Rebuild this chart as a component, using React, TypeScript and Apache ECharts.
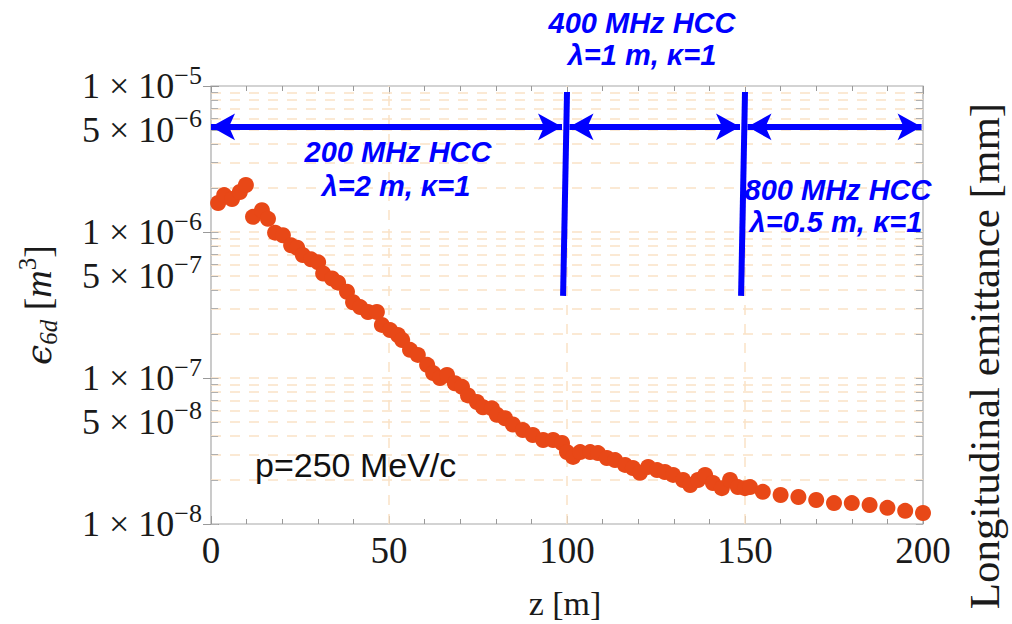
import React, { useEffect, useRef } from 'react';
import * as echarts from 'echarts';

// z [m] and 6D emittance [m^3]
const zValues = [
  2.0, 3.7, 5.9, 8.1, 9.8, 11.8, 14.3, 16.0, 18.0, 20.2, 22.5, 24.2, 25.8, 28.1, 30.1, 31.5, 34.0, 35.7,
  38.2, 39.9, 41.9, 44.1, 46.6, 48.0, 50.3, 52.5, 53.7, 55.9, 58.1, 60.7, 62.4, 64.3, 66.3, 68.5, 70.5,
  72.2, 74.7, 76.4, 78.9, 80.3, 82.6, 84.8, 87.6, 90.4, 93.3, 96.1, 98.6, 100.0, 101.7, 103.7, 106.5,
  108.7, 111.2, 113.5, 116.3, 118.5, 120.5, 122.8, 125.3, 127.5, 129.8, 132.6, 134.6, 136.8, 138.8,
  141.0, 143.5, 145.8, 148.0, 150.0, 151.4, 155, 160, 165, 170, 175, 180, 185, 190, 195, 200,
];
const emittance = [
  1.58e-6, 1.79e-6, 1.68e-6, 1.88e-6, 2.1e-6, 1.27e-6, 1.41e-6, 1.23e-6, 9.9e-7, 9.5e-7, 8.1e-7, 7.8e-7,
  6.95e-7, 6.5e-7, 6.2e-7, 5.2e-7, 4.8e-7, 4.5e-7, 3.9e-7, 3.3e-7, 3.06e-7, 2.83e-7, 2.83e-7, 2.31e-7,
  2.13e-7, 1.97e-7, 1.82e-7, 1.56e-7, 1.44e-7, 1.23e-7, 1.08e-7, 1.0e-7, 1.05e-7, 9.2e-8, 8.7e-8, 7.6e-8,
  6.85e-8, 6.3e-8, 6.2e-8, 5.6e-8, 5.3e-8, 4.8e-8, 4.4e-8, 4.07e-8, 3.76e-8, 3.76e-8, 3.59e-8, 3.11e-8,
  2.88e-8, 3.11e-8, 3.11e-8, 3.06e-8, 2.83e-8, 2.74e-8, 2.54e-8, 2.42e-8, 2.24e-8, 2.46e-8, 2.34e-8,
  2.27e-8, 2.17e-8, 2.0e-8, 1.85e-8, 2.0e-8, 2.17e-8, 1.91e-8, 1.76e-8, 2.0e-8, 1.79e-8, 1.76e-8, 1.79e-8,
  1.66e-8, 1.58e-8, 1.53e-8, 1.46e-8, 1.39e-8, 1.39e-8, 1.35e-8, 1.29e-8, 1.23e-8, 1.19e-8,
];

const yDecades = [1e-8, 1e-7, 1e-6];
const minorMultipliers = [1, 2, 3, 4, 5, 6, 7, 8, 9];
const labeledMultiplier = 5;
const xGridValues = [50, 100, 150];
const sectionBounds = [0, 100, 150, 200];
const arrowLevel = 5.25e-6;
const dividerTop = 9.1e-6;
const dividerBottom = 3.65e-7;

const serif = '"Liberation Serif", "Times New Roman", serif';
const sans = '"Liberation Sans", Arial, sans-serif';
const gridColor = '#fae2c6';
const blue = '#0000ff';
const textColor = '#1a1a1a';

const labelRich = {
  n: { fontFamily: serif, fontSize: 36, lineHeight: 48, color: textColor },
  s: { fontFamily: serif, fontSize: 26, lineHeight: 26, verticalAlign: 'top', color: textColor },
};

function sup(e: number) {
  return e < 0 ? '\u2212' + String(-e) : String(e);
}

export default function App() {
  const ref = useRef<HTMLDivElement>(null);
  useEffect(() => {
    if (!ref.current) return;
    const chart = echarts.init(ref.current, null, { renderer: 'svg' });

    const points = zValues.map((z, i) => [z, emittance[i]]);

    const gridLines: any[] = [];
    const tickSegs: any[] = [];
    yDecades.forEach((d) => {
      minorMultipliers.forEach((m) => {
        const v = m * d;
        const start: any = { coord: [0, v] };
        if (m === labeledMultiplier) {
          const e = Math.round(Math.log10(d));
          start.label = {
            show: true,
            position: 'start',
            distance: 9,
            formatter: `{n|5 × 10}{s|${sup(e)}}`,
            rich: labelRich,
          };
        }
        if (!(m === 1 && d === 1e-8)) {
          gridLines.push([start, { coord: [200, v] }]);
        }
        tickSegs.push([{ coord: [0, v] }, { coord: [2, v] }]);
        tickSegs.push([{ coord: [198, v] }, { coord: [200, v] }]);
      });
    });
    xGridValues.forEach((x) => gridLines.push([{ coord: [x, 1e-8] }, { coord: [x, 1e-5] }]));

    const blueLines: any[] = [];
    for (let i = 0; i < sectionBounds.length - 1; i++) {
      const a = sectionBounds[i] + (i === 0 ? 0 : 0.7);
      const b = sectionBounds[i + 1] - (i === sectionBounds.length - 2 ? 0.4 : 1.4);
      blueLines.push([{ coord: [a, arrowLevel] }, { coord: [b, arrowLevel] }]);
    }
    [100, 150].forEach((x) => {
      blueLines.push([
        { coord: [x, dividerTop], symbol: 'none' },
        { coord: [x - 1.1, dividerBottom], symbol: 'none' },
      ]);
    });

    const blueText = (text: string, x: number, y: number) => ({
      type: 'text',
      x,
      y,
      z: 4,
      style: {
        text,
        fill: blue,
        font: `italic bold 29px ${sans}`,
        align: 'center',
        verticalAlign: 'middle',
        textAlign: 'center',
        textVerticalAlign: 'middle',
      },
    });

    const option: any = {
      animation: false,
      backgroundColor: '#ffffff',
      grid: {
        left: 211,
        right: 89,
        top: 86,
        bottom: 100,
        show: true,
        borderColor: '#a8a8a8',
        borderWidth: 1.2,
        containLabel: false,
      },
      xAxis: [
        {
          type: 'value',
          min: 0,
          max: 200,
          interval: 50,
          axisLine: { show: false },
          axisTick: { show: true, inside: true, length: 8, lineStyle: { color: '#999' } },
          minorTick: { show: true, splitNumber: 5, length: 5, lineStyle: { color: '#999' } },
          splitLine: { show: false },
          axisLabel: { fontFamily: serif, fontSize: 37, color: textColor, margin: 8 },
        },
        {
          type: 'value',
          position: 'top',
          min: 0,
          max: 200,
          interval: 50,
          axisLine: { show: false },
          axisTick: { show: true, inside: true, length: 8, lineStyle: { color: '#999' } },
          minorTick: { show: true, splitNumber: 5, length: 5, lineStyle: { color: '#999' } },
          splitLine: { show: false },
          axisLabel: { show: false },
        },
      ],
      yAxis: [
        {
          type: 'log',
          logBase: 10,
          min: 1e-8,
          max: 1e-5,
          axisLine: { show: false },
          axisTick: { show: true, inside: true, length: 8, lineStyle: { color: '#999' } },
          splitLine: { show: false },
          axisLabel: {
            margin: 9,
            formatter: (v: number) => `{n|1 × 10}{s|${sup(Math.round(Math.log10(v)))}}`,
            rich: labelRich,
          },
        },
        {
          type: 'log',
          logBase: 10,
          position: 'right',
          min: 1e-8,
          max: 1e-5,
          axisLine: { show: false },
          axisTick: { show: true, inside: true, length: 8, lineStyle: { color: '#999' } },
          splitLine: { show: false },
          axisLabel: { show: false },
        },
      ],
      series: [
        {
          type: 'scatter',
          data: [],
          z: 1,
          silent: true,
          markLine: {
            z: 1,
            silent: true,
            symbol: 'none',
            label: { show: false },
            lineStyle: { color: gridColor, type: [10, 9], width: 1.5 },
            data: gridLines,
          },
        },
        {
          type: 'scatter',
          data: [],
          z: 1,
          silent: true,
          markLine: {
            z: 1,
            silent: true,
            symbol: 'none',
            label: { show: false },
            lineStyle: { color: '#b0b0b0', type: 'solid', width: 1 },
            data: tickSegs,
          },
        },
        {
          type: 'scatter',
          name: 'emittance',
          data: points,
          symbol: 'circle',
          symbolSize: 16,
          z: 3,
          clip: false,
          itemStyle: { color: '#e84817', opacity: 1 },
        },
        {
          type: 'scatter',
          data: [],
          z: 6,
          silent: true,
          markLine: {
            z: 6,
            silent: true,
            symbol: ['arrow', 'arrow'],
            symbolSize: [20, 24],
            label: { show: false },
            lineStyle: { color: blue, type: 'solid', width: 6, opacity: 1 },
            data: blueLines,
          },
        },
      ],
      graphic: [
        blueText('400 MHz HCC', 642, 23),
        blueText('\u03bb=1 m, \u03ba=1', 642, 55),
        blueText('200 MHz HCC', 398, 152),
        blueText('\u03bb=2 m, \u03ba=1', 396, 186),
        blueText('800 MHz HCC', 838, 190),
        blueText('\u03bb=0.5 m, \u03ba=1', 836, 222),
        {
          type: 'text',
          x: 255,
          y: 465,
          z: 4,
          style: {
            text: 'p=250 MeV/c',
            fill: '#111',
            font: `34px ${sans}`,
            align: 'left',
            verticalAlign: 'middle',
            textAlign: 'left',
            textVerticalAlign: 'middle',
          },
        },
        {
          type: 'text',
          x: 565,
          y: 603,
          z: 4,
          style: {
            text: 'z [m]',
            fill: textColor,
            font: `34px ${serif}`,
            align: 'center',
            verticalAlign: 'middle',
            textAlign: 'center',
            textVerticalAlign: 'middle',
          },
        },
        {
          type: 'text',
          x: 38,
          y: 305,
          z: 4,
          rotation: Math.PI / 2,
          style: {
            text: '{e|\u03f5}{sub|6d}{b| [}{i|m}{p|3}{b|]}',
            fill: textColor,
            align: 'center',
            verticalAlign: 'middle',
            textAlign: 'center',
            textVerticalAlign: 'middle',
            rich: {
              e: { fontFamily: '"DejaVu Serif", serif', fontStyle: 'italic', fontSize: 36, lineHeight: 46, fill: textColor, color: textColor },
              sub: { fontFamily: serif, fontStyle: 'italic', fontSize: 25, lineHeight: 25, verticalAlign: 'bottom', fill: textColor, color: textColor },
              b: { fontFamily: serif, fontSize: 38, lineHeight: 46, fill: textColor, color: textColor },
              i: { fontFamily: serif, fontStyle: 'italic', fontSize: 38, lineHeight: 46, fill: textColor, color: textColor },
              p: { fontFamily: serif, fontSize: 25, lineHeight: 25, verticalAlign: 'top', fill: textColor, color: textColor },
            },
          },
        },
        {
          type: 'text',
          x: 984,
          y: 356,
          z: 4,
          rotation: Math.PI / 2,
          style: {
            text: 'Longitudinal emittance [mm]',
            fill: textColor,
            font: `43px ${serif}`,
            align: 'center',
            verticalAlign: 'middle',
            textAlign: 'center',
            textVerticalAlign: 'middle',
          },
        },
      ],
    };

    chart.setOption(option);
    return () => chart.dispose();
  }, []);

  return (
    <div
      ref={ref}
      style={{ position: 'absolute', left: 0, top: 0, width: 1012, height: 624, background: '#fff' }}
    />
  );
}
